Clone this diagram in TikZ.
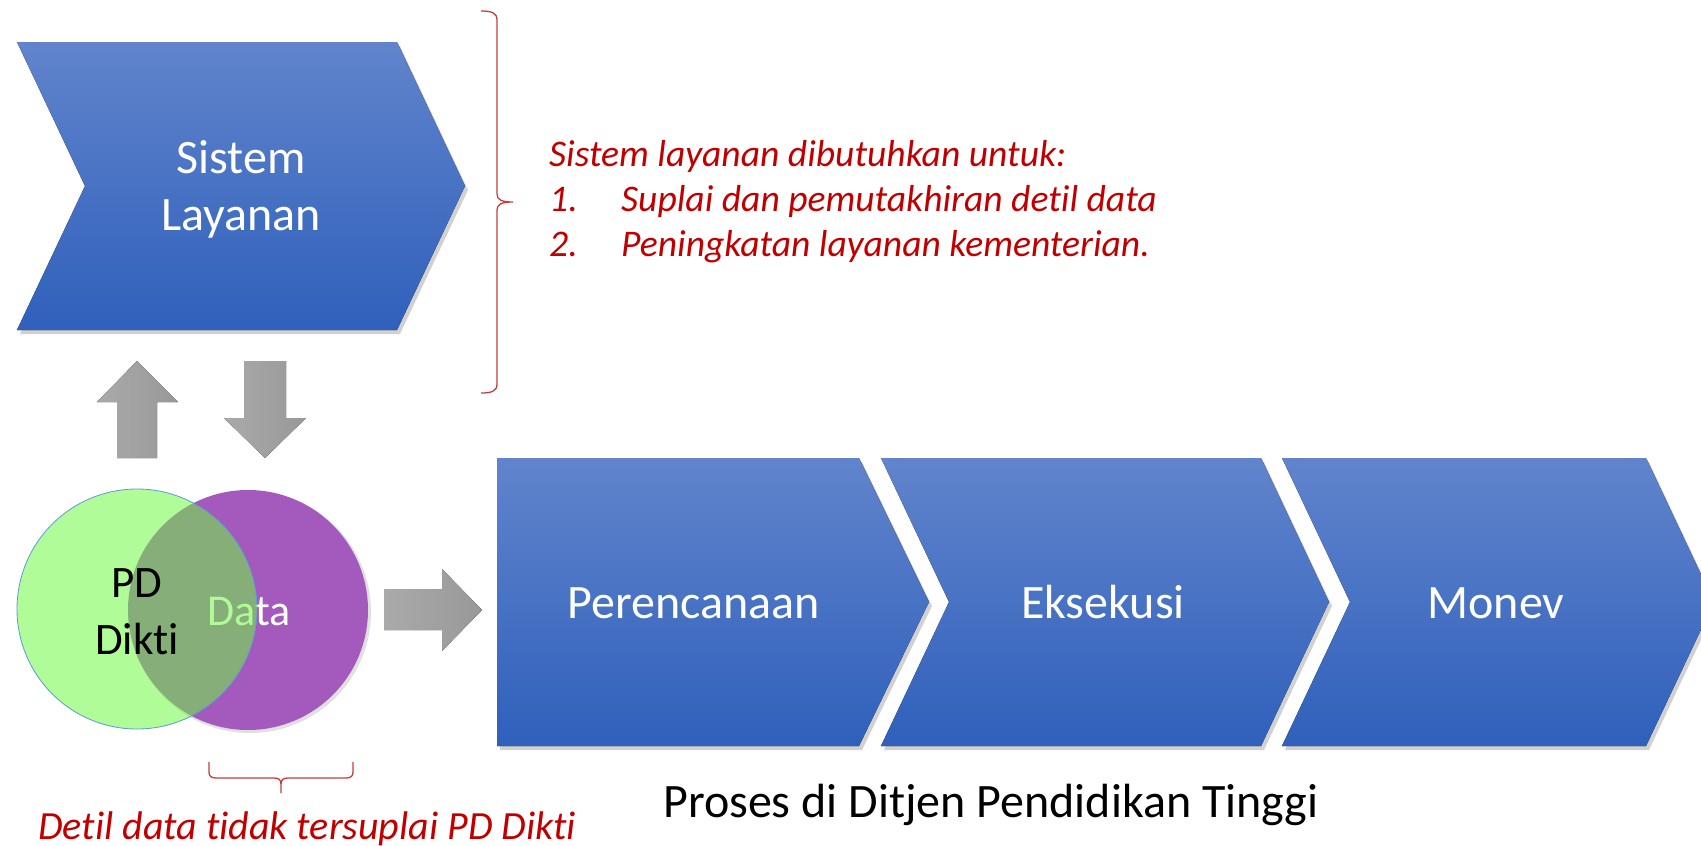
\documentclass[tikz,border=0pt]{standalone}
\usepackage{fontspec}
\setmainfont{Carlito}[Ligatures=NoCommon]
\definecolor{chevtop}{RGB}{97,132,204}
\definecolor{chevbot}{RGB}{47,96,187}
\definecolor{darkred}{RGB}{192,0,0}
\definecolor{bracered}{RGB}{200,60,60}
\definecolor{vgreen}{RGB}{106,249,60}
\definecolor{vpurple}{RGB}{164,90,189}
\definecolor{vblue}{RGB}{91,155,213}
\definecolor{arrgrayL}{RGB}{170,170,170}
\definecolor{arrgrayR}{RGB}{152,152,152}
\tikzset{
  chevfill/.style={top color=chevtop, bottom color=chevbot},
  chevshadow/.style={fill=black, opacity=0.18},
  blockarrow/.style={left color=arrgrayL, right color=arrgrayR},
  brace/.style={draw=bracered, line width=1.3pt},
  whitetxt/.style={text=white, inner sep=0pt, anchor=base},
  redtxt/.style={text=darkred, inner sep=0pt, anchor=base west, font=\fontsize{37.6}{45}\selectfont\itshape},
}
\begin{document}
\begin{tikzpicture}[x=1pt,y=-1pt]
\useasboundingbox (0,0) rectangle (1701,846);
\clip (0,0) rectangle (1701,846);
% Sistem Layanan chevron
\fill[chevshadow, shift={(3,4)}] (17,42) -- (397,42) -- (465,186) -- (397,330) -- (17,330) -- (85,186) -- cycle;
\fill[chevfill] (17,42) -- (397,42) -- (465,186) -- (397,330) -- (17,330) -- (85,186) -- cycle;
\node[whitetxt, font=\fontsize{48}{57}\selectfont] (sis1) at (241,173) {Sistem};
\node[whitetxt, font=\fontsize{48}{57}\selectfont] (sis2) at (241,230) {Layanan};
% process chevrons
\fill[chevshadow, shift={(3,4)}] (497,458) -- (859,458) -- (929,602) -- (859,746) -- (497,746) -- cycle;
\fill[chevfill] (497,458) -- (859,458) -- (929,602) -- (859,746) -- (497,746) -- cycle;
\fill[chevshadow, shift={(3,4)}] (881,458) -- (1261,458) -- (1329,602) -- (1261,746) -- (881,746) -- (949,602) -- cycle;
\fill[chevfill] (881,458) -- (1261,458) -- (1329,602) -- (1261,746) -- (881,746) -- (949,602) -- cycle;
\fill[chevshadow, shift={(3,4)}] (1282,458) -- (1646,458) -- (1714,602) -- (1646,746) -- (1282,746) -- (1350,602) -- cycle;
\fill[chevfill] (1282,458) -- (1646,458) -- (1714,602) -- (1646,746) -- (1282,746) -- (1350,602) -- cycle;
\node[whitetxt, font=\fontsize{48}{57}\selectfont] (p1) at (694,618) {Perencanaan};
\node[whitetxt, font=\fontsize{48}{57}\selectfont] (p2) at (1103,618) {Eksekusi};
\node[whitetxt, font=\fontsize{48}{57}\selectfont] (p3) at (1496,618) {Monev};
% gray block arrows
\fill[blockarrow] (117,458) -- (117,402) -- (97,402) -- (137,361) -- (178,402) -- (157,402) -- (157,458) -- cycle;
\fill[blockarrow] (244,361) -- (286,361) -- (286,418) -- (306,418) -- (265,458) -- (224,418) -- (244,418) -- cycle;
\fill[blockarrow] (384,589) -- (442,589) -- (442,569) -- (482,610) -- (442,651) -- (442,630) -- (384,630) -- cycle;
% venn circles
\fill[black, opacity=0.12] (250,612) circle (121);
\fill[vpurple] (248,610) circle (120);
\node[whitetxt, font=\fontsize{44}{57}\selectfont] (data) at (249,625) {Data};
\fill[vgreen, opacity=0.53] (137,609) circle (120);
\draw[vblue, line width=0.8pt] (137,609) circle (120);
\node[inner sep=0pt, anchor=base, font=\fontsize{45}{57}\selectfont] (pd1) at (137,597) {PD};
\node[inner sep=0pt, anchor=base, font=\fontsize{45}{57}\selectfont] (pd2) at (137,654) {Dikti};
% right brace
\draw[brace] (481,11) .. controls (492,11) and (497,13) .. (497,20) -- (497,194) .. controls (497,200) and (502,202) .. (513,202) .. controls (502,202) and (497,204) .. (497,210) -- (497,384) .. controls (497,391) and (492,393) .. (481,393);
% red text
\node[redtxt] (t0) at (549,166) {Sistem layanan dibutuhkan untuk:};
\node[redtxt] (n1) at (549,211) {1.};
\node[redtxt] (t1) at (621,211) {Suplai dan pemutakhiran detil data};
\node[redtxt] (n2) at (549,256) {2.};
\node[redtxt] (t2) at (621,256) {Peningkatan layanan kementerian.};
% bottom brace
\draw[brace] (209,762) -- (209,772) .. controls (209,776) and (211,778) .. (216,778) -- (274,778) .. controls (279,778) and (281,780) .. (281,784) -- (281,793);
\draw[brace] (353,762) -- (353,772) .. controls (353,776) and (351,778) .. (346,778) -- (288,778) .. controls (283,778) and (281,780) .. (281,784);
\node[redtxt, font=\fontsize{40}{45}\selectfont\itshape] (bt) at (38,839) {Detil data tidak tersuplai PD Dikti};
\node[inner sep=0pt, anchor=base west, font=\fontsize{48}{57}\selectfont] (proses) at (663,817) {Proses di Ditjen Pendidikan Tinggi};
\end{tikzpicture}
\end{document}
